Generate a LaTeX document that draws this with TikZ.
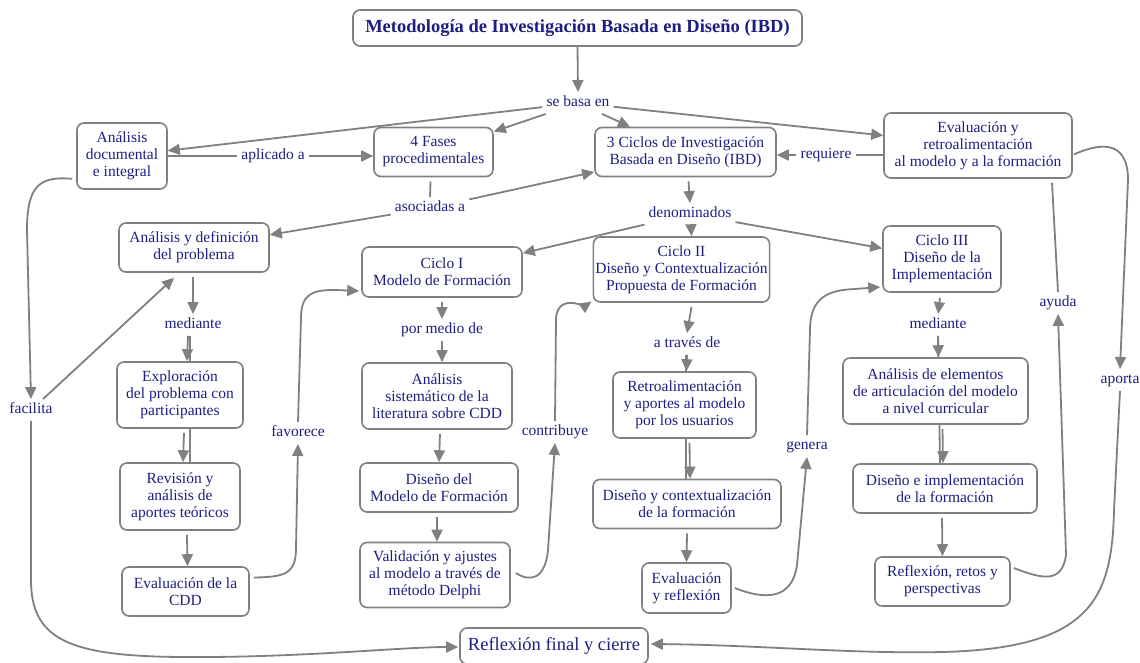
\documentclass[tikz,border=0pt]{standalone}
\usepackage{fontspec}
\setmainfont{Liberation Serif}
\usetikzlibrary{arrows.meta,calc}
\definecolor{navy}{RGB}{30,30,130}
\definecolor{lg}{RGB}{128,128,128}
\newcommand\cmtext{\fontsize{15.5}{17}\selectfont}
\pgfdeclarelayer{back}
\pgfdeclarelayer{bg}
\pgfsetlayers{back,bg,main}
\begin{document}
\begin{tikzpicture}[x=1pt,y=-1pt,
  box/.style={draw=lg, line width=1.6pt, rounded corners=7pt, fill=white, align=center, text=navy, font=\cmtext, inner sep=2pt},
  lab/.style={text=navy, font=\cmtext, inner sep=4pt, text height=10pt, text depth=3.5pt},
  con/.style={draw=lg, line width=1.8pt},
  arr/.style={con, -{Triangle[length=12pt,width=11pt]}},
]
\useasboundingbox (0,0) rectangle (1140,663);
\begin{pgfonlayer}{back}
\fill[white] (0,0) rectangle (1140,663);
\end{pgfonlayer}

% boxes
\node[box, minimum width=449pt, minimum height=36pt, font=\fontsize{18.5}{20}\selectfont\bfseries] (T) at (577.5,28) {Metodología de Investigación Basada en Diseño (IBD)};
\node[box, minimum width=90pt, minimum height=66pt] (AD) at (122,156) {Análisis\\documental\\e integral};
\node[box, minimum width=119pt, minimum height=49pt] (F4) at (433.5,152) {4 Fases\\procedimentales};
\node[box, minimum width=181pt, minimum height=49pt] (C3) at (685.5,152) {3 Ciclos de Investigación\\Basada en Diseño (IBD)};
\node[box, minimum width=188pt, minimum height=65pt] (ER) at (978,145.5) {Evaluación y\\retroalimentación\\al modelo y a la formación};
\node[box, minimum width=150pt, minimum height=49pt] (ADF) at (194,247.5) {Análisis y definición\\del problema};
\node[box, minimum width=160pt, minimum height=50pt] (C1) at (442,272) {Ciclo I\\Modelo de Formación};
\node[box, minimum width=169pt, minimum height=65pt] (C2) at (681.5,269.5) {Ciclo II\\Diseño y Contextualización\\Propuesta de Formación};
\node[box, minimum width=118pt, minimum height=66pt] (C3c) at (942,259) {Ciclo III\\Diseño de la\\Implementación};
\node[box, minimum width=126pt, minimum height=66pt] (EX) at (180,395) {Exploración\\del problema con\\participantes};
\node[box, minimum width=150pt, minimum height=66pt] (AS2) at (437,396) {Análisis\\sistemático de la\\literatura sobre CDD};
\node[box, minimum width=143pt, minimum height=66pt] (RA) at (684.5,405) {Retroalimentación\\y aportes al modelo\\por los usuarios};
\node[box, minimum width=185pt, minimum height=66pt] (AE) at (935.5,391) {Análisis de elementos\\de articulación del modelo\\a nivel curricular};
\node[box, minimum width=120pt, minimum height=67pt] (RV) at (180,496.5) {Revisión y\\análisis de\\aportes teóricos};
\node[box, minimum width=158pt, minimum height=49pt] (DM) at (439,487.5) {Diseño del\\Modelo de Formación};
\node[box, minimum width=188pt, minimum height=49pt] (DC) at (687,504) {Diseño y contextualización\\de la formación};
\node[box, minimum width=184pt, minimum height=49pt] (DI) at (945,488.5) {Diseño e implementación\\de la formación};
\node[box, minimum width=127pt, minimum height=49pt] (EC) at (185.5,591.5) {Evaluación de la\\CDD};
\node[box, minimum width=150pt, minimum height=65pt] (VA) at (435,575) {Validación y ajustes\\al modelo a través de\\método Delphi};
\node[box, minimum width=89pt, minimum height=50pt] (ER2) at (686.5,588) {Evaluación\\y reflexión};
\node[box, minimum width=135pt, minimum height=49pt] (RR) at (942.5,581.5) {Reflexión, retos y\\perspectivas};
\node[box, minimum width=188pt, minimum height=36pt, font=\fontsize{18.5}{22}\selectfont] (RF) at (554,646) {Reflexión final y cierre};

% labels
\node[lab] (S) at (578,103) {se basa en};
\node[lab] (AP) at (273,156) {aplicado a};
\node[lab] (RQ) at (826,155) {requiere};
\node[lab] (AS) at (430,208) {asociadas a};
\node[lab] (DN) at (690,214) {denominados};
\node[lab] (M1) at (193,325) {mediante};
\node[lab] (PM) at (442,330) {por medio de};
\node[lab] (AT) at (687,344) {a través de};
\node[lab] (M2) at (938,325) {mediante};
\node[lab] (FC) at (31,410) {facilita};
\node[lab] (FV) at (298,433) {favorece};
\node[lab] (CB) at (555,432) {contribuye};
\node[lab] (GN) at (807,446) {genera};
\node[lab] (AY) at (1058,303) {ayuda};
\node[lab] (AP2) at (1120,380) {aporta};

\begin{pgfonlayer}{bg}
% top
\draw[arr] (T.south) -- (S.north);
\draw[arr] (S) -- (AD);
\draw[arr] (S) -- (F4);
\draw[arr] (S) -- (C3);
\draw[arr] (S) -- (ER);
\draw[con] (AP.west -| AD.east) -- (AP.west);
\draw[arr] (AP.east) -- (AP.east -| F4.west);
\draw[con] (RQ.east -| ER.west) -- (RQ.east);
\draw[arr] (RQ.west) -- (RQ.west -| C3.east);
\draw[con] ($(F4.south)+(-3,4)$) -- (AS.north);
\draw[arr] (AS) -- (C3);
\draw[arr] (AS) -- (ADF);
\draw[arr] ($(C3.south)+(3,4)$) -- (DN.north);
\draw[arr] (DN) -- (C1);
\draw[arr] ($(DN.south)+(1,0)$) -- ($(C2.north)+(10,0)$);
\draw[arr] (DN) -- (C3c);
% column 1
\draw[arr] ($(ADF.south)+(-1,4)$) -- (M1.north);
\draw[con] ($(M1.south)+(-3,0)$) -- ($(RV.north)+(10,0)$);
\draw[arr] ($(M1.south)+(-5,0)$) -- ($(EX.north)+(7,0)$);
\draw[arr] ($(EX.south)+(4,4)$) -- ($(RV.north)+(3,0)$);
\draw[arr] ($(RV.south)+(7,4)$) -- ($(EC.north)+(2,0)$);
\draw[arr] ($(EC.east)+(4,-14)$) .. controls (285,577) and (296,574) .. (296,548) -- (FV.south);
\draw[arr] (FV.north) -- (301,318) .. controls (301,292) and (315,290) .. (335,290) -- ($(C1.west)+(-2,19)$);
% column 2
\draw[arr] ($(C1.south)+(0,4)$) -- (PM.north);
\draw[arr] (PM.south) -- (PM.south |- AS2.north);
\draw[arr] ($(AS2.south)+(3,4)$) -- ($(DM.north)+(0,0)$);
\draw[arr] ($(DM.south)+(-2,4)$) -- ($(VA.north)+(2,0)$);
\draw[arr] ($(VA.east)+(5,-2)$) .. controls (530,582) and (545,580) .. (548,550) -- (CB.south);
\draw[arr] (CB.north) -- (556,320) .. controls (556,303) and (568,301) .. (578,304) .. controls (585,306) and (588,304) .. ($(C2.west)+(-1,32)$);
% column 3
\draw[arr] ($(C2.south)+(10,4)$) -- (AT.north);
\draw[con] ($(AT.south)+(-1,0)$) -- ($(DC.north)+(-1,0)$);
\draw[arr] (AT.south) -- ($(RA.north)+(2,0)$);
\draw[arr] ($(RA.south)+(5,4)$) -- ($(DC.north)+(3,0)$);
\draw[arr] ($(DC.south)+(0,4)$) -- (ER2.north);
\draw[arr] ($(ER2.east)+(3,0)$) .. controls (765,600) and (792,600) .. (797,565) -- (GN.south);
\draw[arr] (GN.north) -- (810,330) .. controls (810,296) and (830,290) .. (855,289) -- ($(C3c.west)+(-2,28)$);
% column 4
\draw[arr] ($(C3c.south)+(-2,5)$) -- (M2.north);
\draw[con] ($(M2.south)+(0,0)$) -- ($(DI.north)+(-5,0)$);
\draw[arr] (M2.south) -- ($(AE.north)+(3,0)$);
\draw[arr] ($(AE.south)+(7,4)$) -- ($(DI.north)+(-2,0)$);
\draw[arr] ($(DI.south)+(-3,4)$) -- (RR.north);
\draw[arr] ($(RR.east)+(3,-13.5)$) .. controls (1040,578) and (1062,585) .. (1066,555) -- (AY.south);
\draw[con] (AY.north) -- ($(ER.south)+(74,4)$);
\draw[arr] ($(ER.east)+(1,9)$) .. controls (1095,145) and (1128,136) .. (1128,180) -- (AP2.north);
\draw[arr] (AP2.south) -- (1114,510) .. controls (1112,600) and (1090,648) .. (943,652) .. controls (850,654) and (760,645) .. ($(RF.east)+(2,-2)$);
% left side
\draw[arr] ($(AD.south west)+(-4,-11)$) .. controls (40,176) and (27,185) .. (27,230) -- (FC.north);
\draw[arr] ($(FC.north)+(12,0)$) -- ($(ADF.south)+(-20,5)$);
\draw[arr] (FC.south) -- (31,580) .. controls (31,640) and (70,656) .. (180,657) .. controls (300,658) and (400,647) .. ($(RF.west)+(-1,1)$);
\end{pgfonlayer}
\end{tikzpicture}
\end{document}
